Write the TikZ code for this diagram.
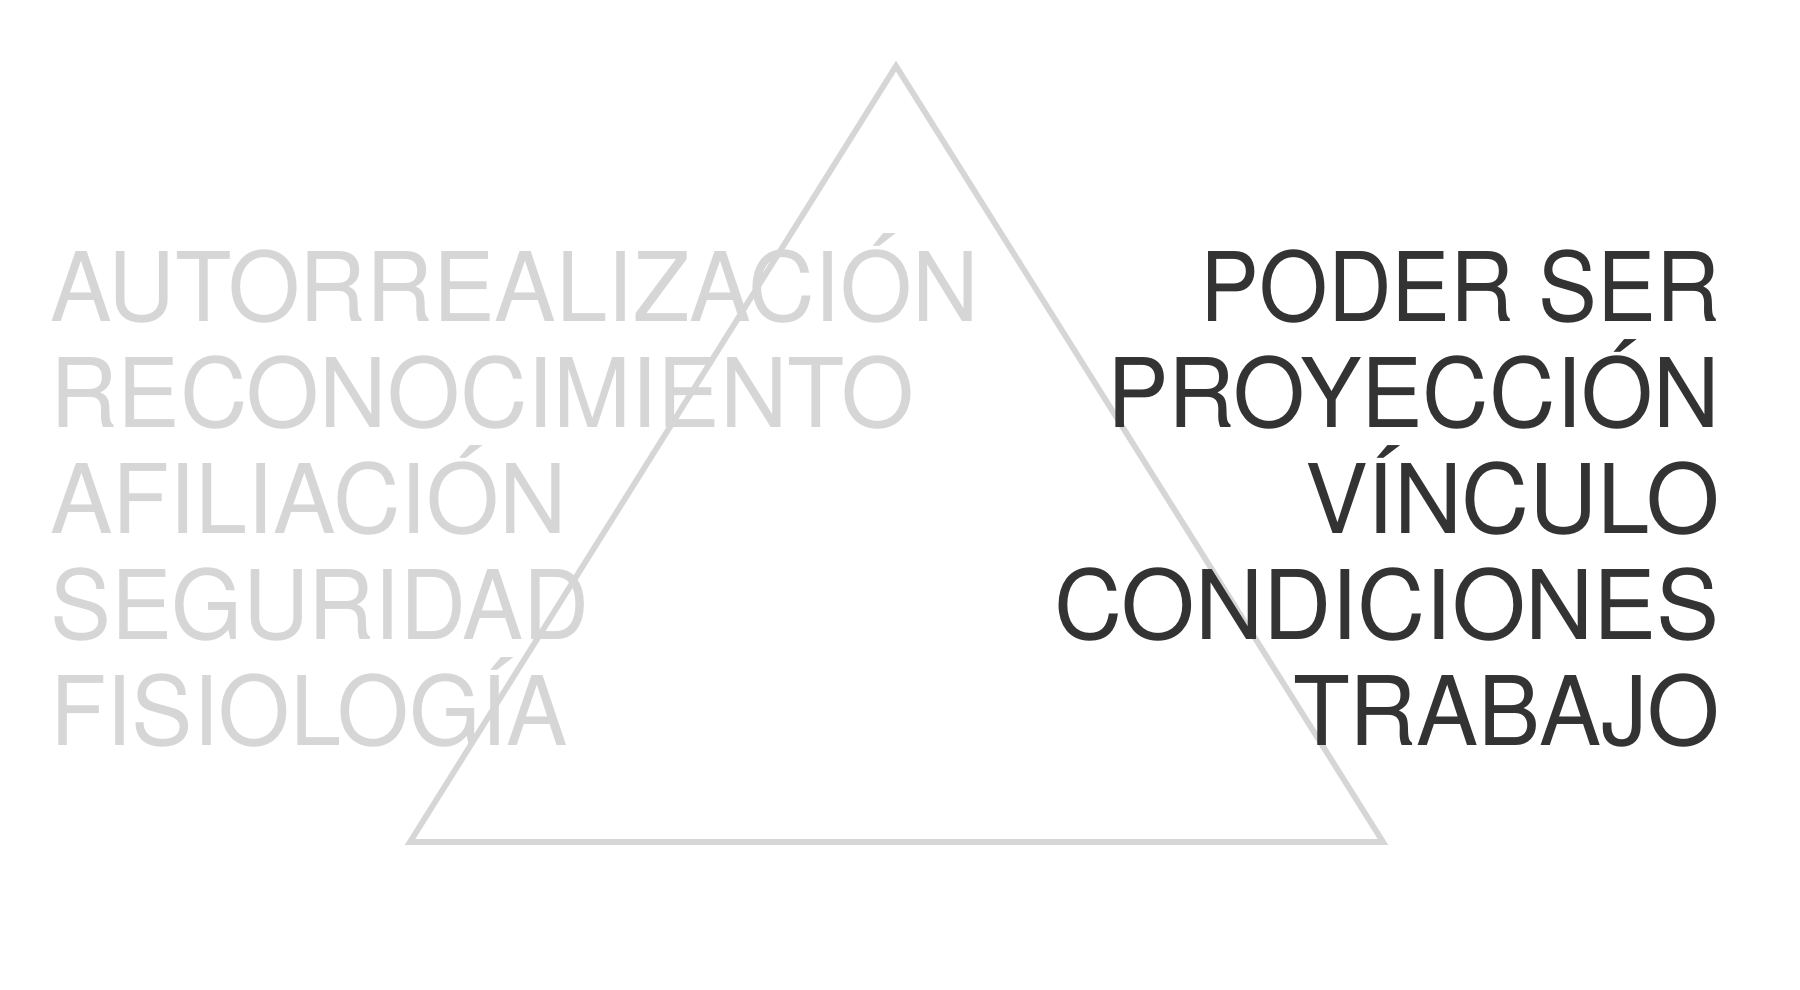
\documentclass[tikz,border=0pt]{standalone}
\usepackage{graphicx}
\usepackage{fontspec}
\setmainfont{TeX Gyre Heros}
\definecolor{lightgr}{HTML}{D6D6D6}
\definecolor{darkgr}{HTML}{333333}
\newcommand{\narrowtxt}[2]{\scalebox{#1}[1]{#2}}
\tikzset{
  leftlbl/.style={inner sep=0pt, anchor=base west, text=lightgr, font=\fontsize{96}{96}\selectfont},
  rightlbl/.style={inner sep=0pt, anchor=base east, text=darkgr, font=\fontsize{96}{96}\selectfont},
  tri/.style={draw=lightgr, line width=5.7pt, line join=miter}
}
\begin{document}
\begin{tikzpicture}[x=1pt,y=-1pt]
\useasboundingbox[fill=white] (0,0) rectangle (1800,990);
\coordinate (apex) at (896,66);
\coordinate (bl) at (410,842);
\coordinate (br) at (1383,842);
\node[leftlbl] (l1) at (50,321) {\narrowtxt{0.962}{AUTORREALIZACIÓN}};
\node[leftlbl] (l2) at (50,427) {\narrowtxt{0.975}{RECONOCIMIENTO}};
\node[leftlbl] (l3) at (50,533) {\narrowtxt{0.975}{AFILIACIÓN}};
\node[leftlbl] (l4) at (50,639) {\narrowtxt{0.951}{SEGURIDAD}};
\node[leftlbl] (l5) at (50,745) {\narrowtxt{0.958}{FISIOLOGÍA}};
\draw[tri] (apex) -- (bl) -- (br) -- cycle;
\node[rightlbl] (r1) at (1720,321) {\narrowtxt{0.918}{PODER SER}};
\node[rightlbl] (r2) at (1720,427) {\narrowtxt{0.960}{PROYECCIÓN}};
\node[rightlbl] (r3) at (1720,533) {\narrowtxt{0.982}{VÍNCULO}};
\node[rightlbl] (r4) at (1720,639) {\narrowtxt{0.984}{CONDICIONES}};
\node[rightlbl] (r5) at (1720,745) {\narrowtxt{0.968}{TRABAJO}};
\end{tikzpicture}
\end{document}
